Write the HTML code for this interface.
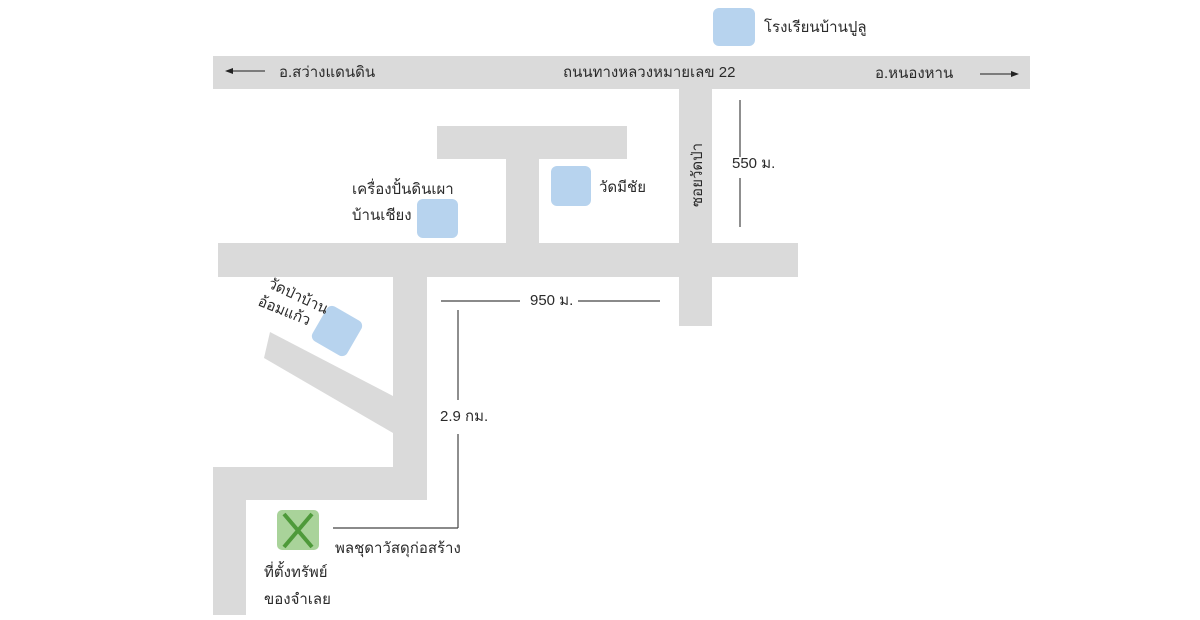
<!DOCTYPE html>
<html><head><meta charset="utf-8"><style>
html,body{margin:0;padding:0;background:#fff;}
svg{display:block}
text{font-family:"Liberation Sans","DejaVu Sans",sans-serif;fill:#2a2a2a;font-size:15px}
</style></head><body>
<svg width="1200" height="620" viewBox="0 0 1200 620">
<g fill="#dadada">
<rect x="213" y="56" width="817" height="33"/>
<rect x="679" y="89" width="33" height="237"/>
<rect x="218" y="243" width="580" height="34"/>
<rect x="437" y="126" width="190" height="33"/>
<rect x="506" y="159" width="33" height="84"/>
<rect x="393" y="277" width="34" height="223"/>
<rect x="213" y="467" width="214" height="33"/>
<rect x="213" y="467" width="33" height="148"/>
<polygon points="270,332 393,396 393,433 264,358"/>
</g>
<g fill="#b7d3ee">
<rect x="713" y="8" width="42" height="38" rx="6"/>
<rect x="551" y="166" width="40" height="40" rx="6"/>
<rect x="417" y="199" width="41" height="39" rx="6"/>
<rect x="317" y="311" width="40" height="40" rx="6" transform="rotate(30 337 331)"/>
</g>
<rect x="277" y="510" width="42" height="40" rx="5" fill="#a9d39a"/>
<path d="M284 514 L312 547 M312 514 L284 547" stroke="#4e9a3a" stroke-width="4"/>
<g stroke="#444" stroke-width="1.2" fill="none">
<line x1="740" y1="100" x2="740" y2="157"/><line x1="740" y1="178" x2="740" y2="227"/>
<line x1="441" y1="301" x2="520" y2="301"/><line x1="578" y1="301" x2="660" y2="301"/>
<line x1="458" y1="310" x2="458" y2="400"/><line x1="458" y1="434" x2="458" y2="528"/>
<line x1="333" y1="528" x2="458" y2="528"/>
<line x1="232" y1="71" x2="265" y2="71"/><line x1="980" y1="74" x2="1012" y2="74"/>
</g>
<polygon points="225,71 233,68 233,74" fill="#222"/>
<polygon points="1019,74 1011,71 1011,77" fill="#222"/>
<text x="279" y="77">อ.สว่างแดนดิน</text>
<text x="563" y="77">ถนนทางหลวงหมายเลข 22</text>
<text x="875" y="78">อ.หนองหาน</text>
<text x="764" y="32">โรงเรียนบ้านปูลู</text>
<text x="599" y="192">วัดมีชัย</text>
<text x="352" y="194">เครื่องปั้นดินเผา</text>
<text x="352" y="220">บ้านเชียง</text>
<text x="0" y="0" transform="translate(702 207) rotate(-90)">ซอยวัดป่า</text>
<text x="732" y="168" font-size="10">550 ม.</text>
<text x="530" y="305" font-size="10">950 ม.</text>
<text x="440" y="421" font-size="10">2.9 กม.</text>
<text transform="translate(267 287) rotate(25)">วัดป่าบ้าน</text>
<text transform="translate(257 305) rotate(22)">อ้อมแก้ว</text>
<text x="335" y="553">พลชุดาวัสดุก่อสร้าง</text>
<text x="264" y="577">ที่ตั้งทรัพย์</text>
<text x="264" y="604">ของจำเลย</text>
</svg>
</body></html>
